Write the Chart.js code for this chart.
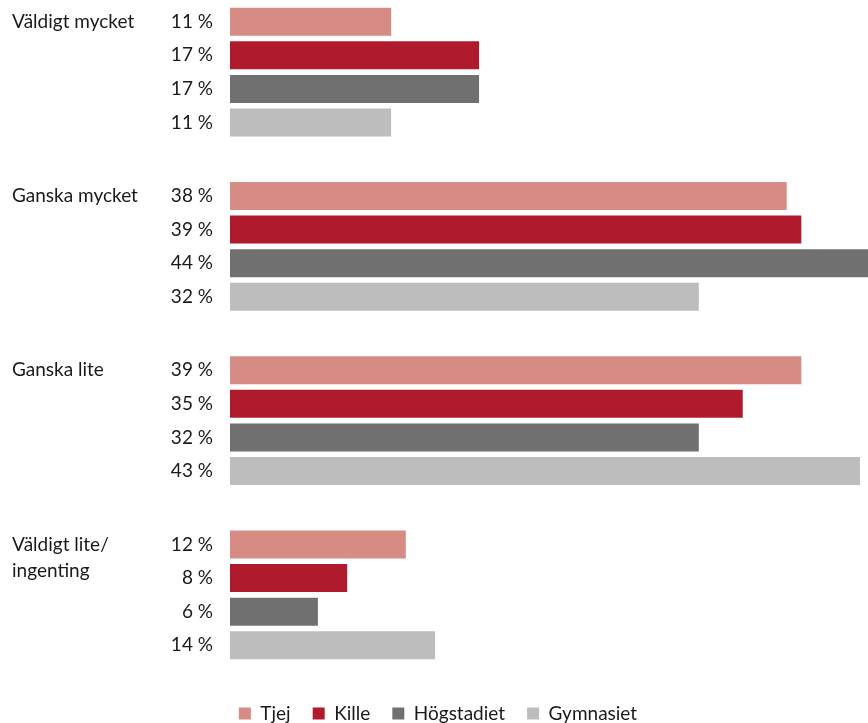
<!DOCTYPE html>
<html>
<head>
<meta charset="utf-8">
<script src="https://cdn.jsdelivr.net/npm/chart.js@4"></script>
<style>
    html, body { margin: 0; padding: 0; background: #fff; overflow: hidden; }
    #wrap { width: 868px; height: 723px; overflow: hidden; position: relative; }
    #inner { position: absolute; left: 0; top: -15px; width: 868px; height: 748px; }
</style>
</head>
<body>
<div id="wrap"><div id="inner"><canvas id="chart"></canvas></div></div>
<script>
const categories = ['Väldigt mycket', 'Ganska mycket', 'Ganska lite', 'Väldigt lite/\ningenting'];
const seriesNames = ['Tjej', 'Kille', 'Högstadiet', 'Gymnasiet'];
const tjej = [11, 38, 39, 12];
const kille = [17, 39, 35, 8];
const hogstadiet = [17, 44, 32, 6];
const gymnasiet = [11, 32, 43, 14];
const colors = ['#D68C84', '#AF1A2D', '#707070', '#BDBDBD'];

const FONT = 'Lato';
const TEXT = '#1a1a1a';

// labels next to bars + category names on the left
const labelPlugin = {
    id: 'barLabels',
    afterDatasetsDraw(chart) {
        const ctx = chart.ctx;
        const left = chart.chartArea.left;
        ctx.save();
        ctx.fillStyle = TEXT;
        ctx.font = '19px ' + FONT;
        ctx.textBaseline = 'middle';
        chart.data.datasets.forEach((ds, i) => {
            const meta = chart.getDatasetMeta(i);
            meta.data.forEach((bar, j) => {
                ctx.textAlign = 'right';
                ctx.fillText(ds.data[j] + ' %', left - 17, bar.y);
            });
        });
        const first = chart.getDatasetMeta(0);
        ctx.textAlign = 'left';
        categories.forEach((c, j) => {
            const y = first.data[j].y;
            c.split('\n').forEach((line, k) => {
                ctx.fillText(line, 12, y + k * 26);
            });
        });
        ctx.restore();
    }
};

new Chart(document.getElementById('chart'), {
    type: 'bar',
    data: {
        labels: categories,
        datasets: [tjej, kille, hogstadiet, gymnasiet].map((d, i) => ({
            label: seriesNames[i],
            data: d,
            backgroundColor: colors[i],
            categoryPercentage: 0.77,
            barPercentage: 0.835
        }))
    },
    options: {
        indexAxis: 'y',
        responsive: true,
        maintainAspectRatio: false,
        animation: false,
        layout: { padding: { top: 0, left: 8, right: 0, bottom: 0 } },
        scales: {
            x: { display: false, min: 0, max: 43.55 },
            y: {
                display: true,
                grid: { display: false },
                border: { display: false },
                ticks: { display: false },
                afterFit(scale) { scale.width = 222; }
            }
        },
        plugins: {
            legend: {
                position: 'bottom',
                labels: {
                    boxWidth: 12,
                    boxHeight: 12,
                    padding: 22,
                    color: TEXT,
                    font: { family: FONT, size: 19 }
                }
            },
            tooltip: { enabled: false }
        }
    },
    plugins: [labelPlugin]
});
</script>
</body>
</html>
